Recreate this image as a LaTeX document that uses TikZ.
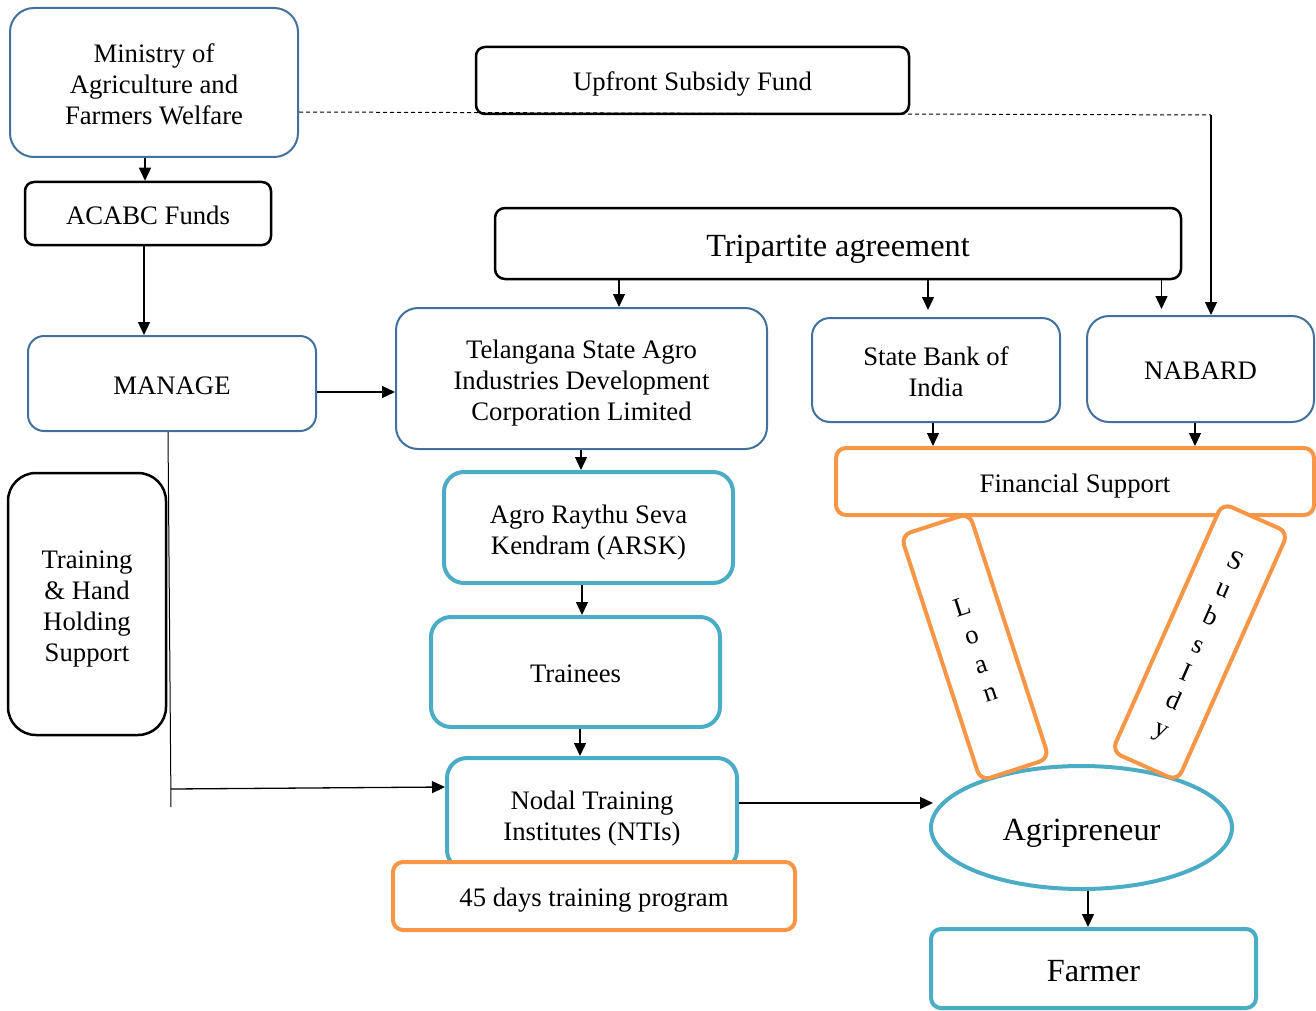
\documentclass[tikz,border=0pt]{standalone}
\usepackage{fontspec}
\setmainfont{Liberation Serif}
\usetikzlibrary{arrows.meta,shapes.geometric}
\definecolor{bbl}{HTML}{41719C}
\definecolor{tea}{HTML}{4BACC6}
\definecolor{ora}{HTML}{F79646}
\newcommand\fstrut{\rule{0pt}{1.06em}}
\begin{document}
\begin{tikzpicture}[x=1pt,y=-1pt,
 base/.style={rectangle, align=center, inner sep=0pt, fill=white, font=\fontsize{26.7}{31}\selectfont,
   execute at begin node={\rule{0pt}{1em}}, execute at end node={\rule[-0.2em]{0pt}{0pt}}},
 bluebox/.style={base, draw=bbl, line width=2pt, rounded corners=18pt},
 blackbox/.style={base, draw=black, line width=2.5pt, rounded corners=9pt},
 tealbox/.style={base, draw=tea, line width=4pt, rounded corners=20pt},
 orabox/.style={base, draw=ora, line width=4pt, rounded corners=10pt},
 bigfont/.style={font=\fontsize{32.3}{36}\selectfont},
 arr/.style={line width=1.3pt, -{Triangle[length=13pt,width=12pt]}},
 ]
\useasboundingbox (0,0) rectangle (1316,1011);

% top row
\node[bluebox, minimum width=288pt, minimum height=149pt, rounded corners=24pt] (min) at (154,82.5) {\fstrut Ministry of\\Agriculture and\\Farmers Welfare};
\node[blackbox, minimum width=246pt, minimum height=63pt] (aca) at (148,213.5) {ACABC Funds};
\node[blackbox, minimum width=433pt, minimum height=67pt] (upf) at (692.5,80.5) {Upfront Subsidy Fund};
\node[blackbox, bigfont, minimum width=686pt, minimum height=71pt, rounded corners=10pt] (tri) at (838,243.5) {Tripartite agreement};

% second row
\node[bluebox, minimum width=288pt, minimum height=95pt, rounded corners=16pt] (man) at (172,383.5) {MANAGE};
\node[bluebox, minimum width=371pt, minimum height=141pt, rounded corners=22pt] (tel) at (581.5,378.5) {\fstrut Telangana State Agro\\Industries Development\\Corporation Limited};
\node[bluebox, minimum width=248pt, minimum height=104pt] (sbi) at (936,370) {\fstrut State Bank of\\India};
\node[bluebox, minimum width=227pt, minimum height=106pt, rounded corners=22pt] (nab) at (1200.5,369) {NABARD};
\node[orabox, minimum width=478pt, minimum height=67pt] (fin) at (1075,481.5) {Financial Support};

% left column
\node[blackbox, minimum width=158pt, minimum height=262pt, rounded corners=28pt] (trn) at (87,604) {\fstrut Training\\\& Hand\\Holding\\Support};

% middle column
\node[tealbox, minimum width=289pt, minimum height=111pt] (ars) at (588.5,527.5) {\fstrut Agro Raythu Seva\\Kendram (ARSK)};
\node[tealbox, minimum width=289pt, minimum height=110pt] (tra) at (575.5,672) {Trainees};
\node[tealbox, minimum width=290pt, minimum height=112pt] (nti) at (592,814) {\fstrut Nodal Training\\Institutes (NTIs)};
\node[orabox, minimum width=402pt, minimum height=68pt] (d45) at (594,896) {45 days training program};

% right column
\node[ellipse, draw=tea, line width=4pt, fill=white, inner sep=0pt, minimum width=301pt, minimum height=123pt, bigfont,
   execute at begin node={\rule{0pt}{1em}}, execute at end node={\rule[-0.2em]{0pt}{0pt}}] (agr) at (1081.5,827.5) {Agripreneur};
\node[tealbox, bigfont, minimum width=325pt, minimum height=79pt, rounded corners=10pt] (frm) at (1093.5,968.5) {Farmer};
\node[orabox, minimum width=72pt, minimum height=258pt, rotate=18, font=\fontsize{26.7}{30}\selectfont] (loan) at (975,647) {\fstrut L\\o\\a\\n};
\node[orabox, minimum width=72pt, minimum height=272pt, rotate=-24, font=\fontsize{26.7}{30.5}\selectfont] (sub) at (1200,642) {\fstrut S\\u\\b\\s\\I\\d\\y};

% connectors
\draw[arr] ([xshift=-9pt]min.south) -- ([xshift=-3pt]aca.north);
\draw[arr] ([xshift=-4pt]aca.south) -- ([xshift=-28pt]man.north);
\coordinate (dcorner) at (1211,115);
\draw[dash pattern=on 4pt off 3pt, line width=1pt] ([yshift=-29.5pt]min.east) -- (dcorner);
\draw[arr] (dcorner) -- (dcorner |- nab.north);
\draw[arr] ([xshift=-219pt]tri.south) -- ([xshift=37.5pt]tel.north);
\draw[arr, shorten >=7pt] ([xshift=90pt]tri.south) -- ([xshift=-8pt]sbi.north);
\draw[arr, shorten >=6pt] ([xshift=323.5pt]tri.south) -- ([xshift=-39pt]nab.north);
\draw[arr] ([yshift=-8.5pt]man.east) -- ([yshift=-13.5pt]tel.west);
\draw[arr] ([xshift=-0.5pt]tel.south) -- ([xshift=-7.5pt]ars.north);
\draw[arr] ([xshift=-6.5pt]ars.south) -- ([xshift=6.5pt]tra.north);
\draw[arr] ([xshift=4.5pt]tra.south) -- ([xshift=-12pt]nti.north);
\draw[arr] ([xshift=-3pt]sbi.south) -- ([xshift=-142pt]fin.north);
\draw[arr] ([xshift=-5.5pt]nab.south) -- ([xshift=120pt]fin.north);
\coordinate (mend) at (171,807);
\coordinate (mbr) at (171,789);
\draw[line width=1pt] ([xshift=-4pt]man.south) -- (mend);
\draw[arr] (mbr) -- ([yshift=27pt]nti.west);
\coordinate (ntiout) at ([yshift=11pt]nti.east);
\draw[arr, shorten >=-4pt] (ntiout) -- (ntiout -| agr.west);
\draw[arr] ([xshift=6.5pt]agr.south) -- ([xshift=-5.5pt]frm.north);
\end{tikzpicture}
\end{document}
